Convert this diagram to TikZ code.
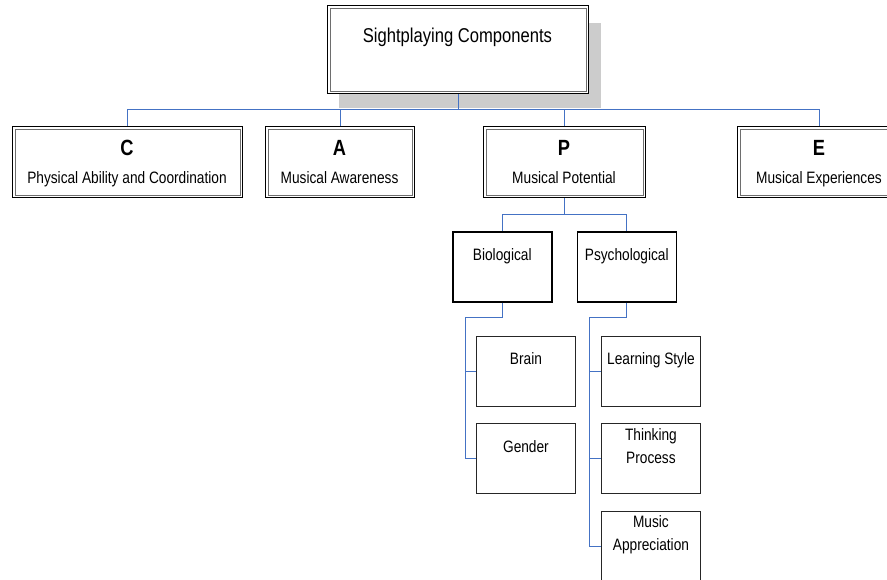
\documentclass[tikz,border=0pt]{standalone}
\usepackage{fontspec}
\setmainfont[FakeStretch=0.83]{Liberation Sans}
\definecolor{linkblue}{RGB}{68,114,196}
\definecolor{shadowgray}{RGB}{204,204,204}
\definecolor{innergray}{RGB}{110,110,110}
\begin{document}
\begin{tikzpicture}[x=1pt,y=-1pt,
  conn/.style={draw=linkblue, line width=0.9pt},
  dblbox/.style={draw=black, line width=1.2pt, fill=white, anchor=north west, inner sep=0pt},
  midbox/.style={draw=black, line width=1.5pt, fill=white, anchor=north west, inner sep=0pt, minimum width=99pt, minimum height=70pt},
  leafbox/.style={draw=black!85, line width=0.9pt, fill=white, anchor=north west, inner sep=0pt, minimum width=99pt, minimum height=70pt},
  lettertxt/.style={anchor=base, inner sep=0pt, font=\fontsize{22}{24}\selectfont\bfseries},
  nametxt/.style={anchor=base, inner sep=0pt, font=\fontsize{16.5}{18}\selectfont},
  titletxt/.style={anchor=base, inner sep=0pt, font=\fontsize{20}{22}\selectfont}]
\useasboundingbox (0,0) rectangle (887,579);
\fill[white] (0,0) rectangle (887,579);

% shadow of top box
\fill[shadowgray] (339,23) rectangle (601,108);

% top box
\node[dblbox, minimum width=261pt, minimum height=88pt] (top) at (327,5) {};
\draw[innergray, line width=0.8pt] ([shift={(3pt,-3pt)}]top.north west) rectangle ([shift={(-3pt,3pt)}]top.south east);
\node[titletxt] (toptxt) at (457.5,42) {Sightplaying Components};

% level 1 boxes
\node[dblbox, minimum width=230pt, minimum height=71pt] (c) at (12,126) {};
\node[dblbox, minimum width=149pt, minimum height=71pt] (a) at (265,126) {};
\node[dblbox, minimum width=162pt, minimum height=71pt] (p) at (483,126) {};
\node[dblbox, minimum width=164pt, minimum height=71pt] (e) at (737,126) {};
\foreach \n in {c,a,p,e}{
  \draw[innergray, line width=0.8pt] ([shift={(3pt,-3pt)}]\n.north west) rectangle ([shift={(-3pt,3pt)}]\n.south east);
}
\node[lettertxt] (cl) at (127,155) {C};
\node[nametxt] (ct) at (127,183) {Physical Ability and Coordination};
\node[lettertxt] (al) at (339.5,155) {A};
\node[nametxt] (at) at (339.5,183) {Musical Awareness};
\node[lettertxt] (pl) at (564,155) {P};
\node[nametxt] (pt) at (564,183) {Musical Potential};
\node[lettertxt] (el) at (819,155) {E};
\node[nametxt] (et) at (819,183) {Musical Experiences};

% level 2
\node[midbox] (bio) at (452,231) {};
\node[midbox] (psy) at (576.5,231) {};
\node[nametxt] (biot) at (bio.north |- 0,260) {Biological};
\node[nametxt] (psyt) at (psy.north |- 0,260) {Psychological};

% level 3
\node[leafbox] (brain) at (476,336) {};
\node[leafbox] (gender) at (476,423) {};
\node[leafbox] (learn) at (601,336) {};
\node[leafbox] (think) at (601,423) {};
\node[leafbox] (music) at (601,511) {};
\node[nametxt] (braint) at (brain.north |- 0,364) {Brain};
\node[nametxt] (gendert) at (gender.north |- 0,452) {Gender};
\node[nametxt] (learnt) at (learn.north |- 0,364) {Learning Style};
\node[nametxt] (thinkt1) at (think.north |- 0,440) {Thinking};
\node[nametxt] (thinkt2) at (think.north |- 0,463) {Process};
\node[nametxt] (musict1) at (music.north |- 0,527) {Music};
\node[nametxt] (musict2) at (music.north |- 0,550) {Appreciation};

% connectors
\coordinate (bus) at (0,109);
\coordinate (bus2) at (0,214);
\coordinate (busb) at (465,317);
\coordinate (busp) at (589,317);
\draw[conn] (top.south) -- (top.south |- bus);
\draw[conn] (c.north) -- (c.north |- bus) -- (e.north |- bus) -- (e.north);
\draw[conn] (a.north) -- (a.north |- bus);
\draw[conn] (p.north) -- (p.north |- bus);

\draw[conn] (p.south) -- (p.south |- bus2);
\draw[conn] (bio.north) -- (bio.north |- bus2) -- (psy.north |- bus2) -- (psy.north);

\draw[conn] (bio.south) -- (bio.south |- busb) -- (busb) |- (gender.west);
\draw[conn] (busb |- brain.west) -- (brain.west);
\draw[conn] (psy.south) -- (psy.south |- busp) -- (busp) |- (music.west);
\draw[conn] (busp |- learn.west) -- (learn.west);
\draw[conn] (busp |- think.west) -- (think.west);
\end{tikzpicture}
\end{document}
